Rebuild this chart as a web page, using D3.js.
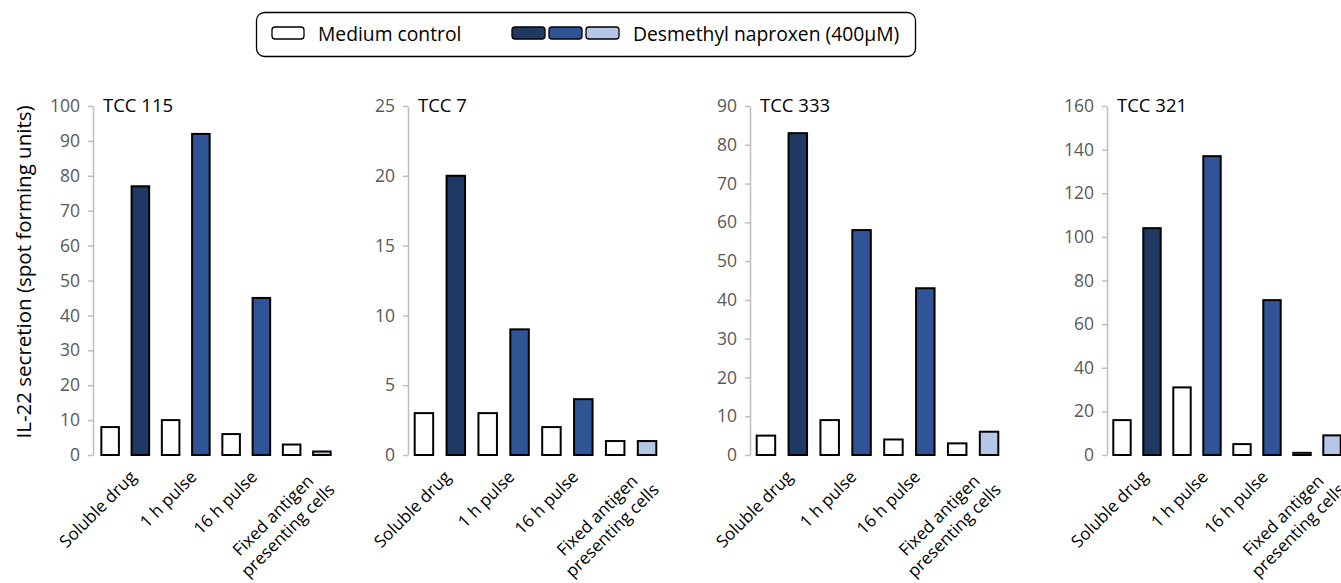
<!DOCTYPE html>
<html>
<head>
<meta charset="utf-8">
<script src="https://cdn.jsdelivr.net/npm/d3@7"></script>
<style>
  html, body { margin: 0; padding: 0; background: #fff; }
  svg { display: block; font-family: "Open Sans", sans-serif; }
</style>
</head>
<body>
<svg id="chart" width="1341" height="583"></svg>
<script>
// IL-22 spot forming units per T cell clone and stimulation condition
const clones = ["TCC 115", "TCC 7", "TCC 333", "TCC 321"];
const conditions = ["Soluble drug", "1 h pulse", "16 h pulse", "Fixed antigen\npresenting cells"];
const mediumControl = [
  [8, 10, 6, 3],
  [3, 3, 2, 1],
  [5, 9, 4, 3],
  [16, 31, 5, 1]
];
const desmethylNaproxen = [
  [77, 92, 45, 1],
  [20, 9, 4, 1],
  [83, 58, 43, 6],
  [104, 137, 71, 9]
];
const yMax = [100, 25, 90, 160];
const yStep = [10, 5, 10, 20];
const seriesNames = ["Medium control", "Desmethyl naproxen (400\u00b5M)"];
const drugColors = ["#203864", "#2f5597", "#2f5597", "#b4c7e7"];
const controlColor = "#ffffff";

const svg = d3.select("#chart");

// panel geometry
const panels = [
  { axisX: 93,   x0: 95,   x1: 337 },
  { axisX: 408,  x0: 408,  x1: 663 },
  { axisX: 750,  x0: 750,  x1: 1005 },
  { axisX: 1107, x0: 1107, x1: 1347 }
];
const yTop = 106, yBottom = 455;

clones.forEach((clone, p) => {
  const geo = panels[p];
  const g = svg.append("g");

  const y = d3.scaleLinear().domain([0, yMax[p]]).range([yBottom, yTop]);
  const xGroup = d3.scaleBand().domain(conditions).range([geo.x0, geo.x1]).padding(0);
  const xInner = d3.scaleBand().domain([0, 1]).range([0, xGroup.bandwidth()])
    .paddingInner(0.42).paddingOuter(0.21);

  // y axis
  const axis = d3.axisLeft(y)
    .tickValues(d3.range(0, yMax[p] + yStep[p] / 2, yStep[p]))
    .tickSize(5).tickSizeOuter(0).tickPadding(8);
  const ag = g.append("g").attr("transform", `translate(${geo.axisX},0)`).call(axis);
  ag.select(".domain").attr("stroke", "#bfbfbf").attr("stroke-width", 1.5);
  ag.selectAll(".tick line").attr("stroke", "#bfbfbf").attr("stroke-width", 1.5);
  ag.selectAll(".tick text")
    .attr("fill", "#595959")
    .style("font-family", "'Open Sans', sans-serif")
    .style("font-size", "17.5px");

  // panel title
  g.append("text")
    .attr("x", geo.axisX + 10)
    .attr("y", 112)
    .attr("fill", "#000")
    .style("font-size", "18.5px")
    .text(clone);

  // bars
  const rows = conditions.map((c, i) => ({
    cond: c, i,
    values: [mediumControl[p][i], desmethylNaproxen[p][i]]
  }));
  const grp = g.selectAll(".grp").data(rows).join("g")
    .attr("transform", d => `translate(${xGroup(d.cond)},0)`);
  grp.selectAll("rect")
    .data(d => d.values.map((v, s) => ({ v, s, i: d.i })))
    .join("rect")
    .attr("x", d => xInner(d.s))
    .attr("width", xInner.bandwidth())
    .attr("y", d => y(d.v))
    .attr("height", d => y(0) - y(d.v))
    .attr("fill", d => d.s === 0 ? controlColor : drugColors[d.i])
    .attr("stroke", "#000")
    .attr("stroke-width", 2);

  // rotated category labels (multi-line labels are centred line by line)
  rows.forEach(d => {
    const cx = xGroup(d.cond) + xGroup.bandwidth() / 2;
    const lg = g.append("g")
      .attr("transform", `translate(${cx + 12},${478}) rotate(-45)`);
    const lines = d.cond.split("\n");
    const texts = lines.map((line, k) => lg.append("text")
      .attr("y", k * 21)
      .attr("fill", "#000")
      .style("font-size", "17px")
      .text(line));
    const widths = texts.map(t => t.node().getComputedTextLength());
    const maxW = d3.max(widths);
    const shift = lines.length > 1 ? 3 : 0;
    texts.forEach(t => t.attr("x", -maxW / 2 + shift).attr("text-anchor", "middle"));
  });
});

// y-axis title
svg.append("text")
  .attr("transform", "translate(31,272) rotate(-90)")
  .attr("text-anchor", "middle")
  .attr("fill", "#000")
  .style("font-size", "20.5px")
  .text("IL-22 secretion (spot forming units)");

// legend
const legend = svg.append("g");
legend.append("rect")
  .attr("x", 256.5).attr("y", 12.5).attr("width", 659).attr("height", 44)
  .attr("rx", 8).attr("fill", "#fff").attr("stroke", "#000").attr("stroke-width", 1.3);
legend.append("rect")
  .attr("x", 272).attr("y", 27).attr("width", 32).attr("height", 12).attr("rx", 3)
  .attr("fill", controlColor).attr("stroke", "#000").attr("stroke-width", 1.3);
legend.append("text")
  .attr("x", 318).attr("y", 41).style("font-size", "19.3px").attr("fill", "#000")
  .text(seriesNames[0]);
const swatchColors = [drugColors[0], drugColors[1], drugColors[3]];
swatchColors.forEach((c, k) => {
  legend.append("rect")
    .attr("x", 512 + k * 37).attr("y", 27).attr("width", 33).attr("height", 12).attr("rx", 3)
    .attr("fill", c).attr("stroke", "#000").attr("stroke-width", 1.3);
});
legend.append("text")
  .attr("x", 633).attr("y", 41).style("font-size", "19.3px").attr("fill", "#000")
  .text(seriesNames[1]);
</script>
</body>
</html>
